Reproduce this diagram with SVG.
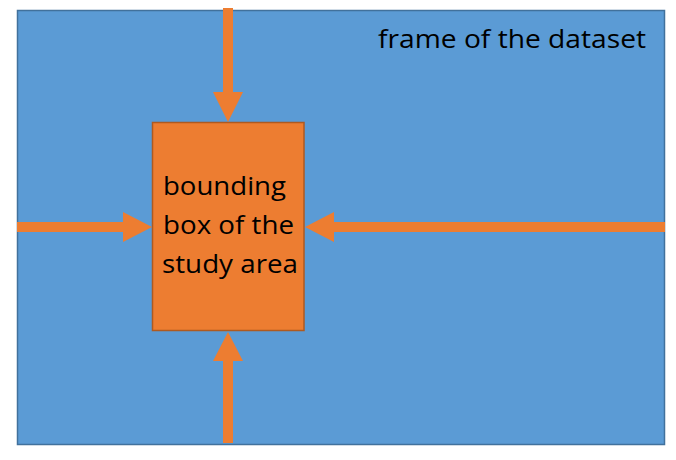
<svg xmlns="http://www.w3.org/2000/svg" width="676" height="460" viewBox="0 0 676 460">
<style>
.t{font-family:"Open Sans","Liberation Sans",sans-serif;font-size:26px;fill:#000}
.arr{fill:#ED7D31}
</style>
<rect width="676" height="460" fill="#fff"/>
<g id="frame">
<rect x="17.5" y="10.5" width="647" height="434" fill="#5B9BD5" stroke="#41719C" stroke-width="1.5"/>
<text class="t" x="378" y="48" textLength="268" lengthAdjust="spacingAndGlyphs">frame of the dataset</text>
</g>
<g id="connectors">
<polygon class="arr" points="223,8 233,8 233,92 243,92 228,122 213,92 223,92"/>
<polygon class="arr" points="17,222 123,222 123,212 152,227 123,242 123,232 17,232"/>
<polygon class="arr" points="665,222 334,222 334,212 305,227 334,242 334,232 665,232"/>
<polygon class="arr" points="223,443 233,443 233,361 243,361 228,332 213,361 223,361"/>
</g>
<g id="studyarea">
<rect x="152.5" y="122.5" width="151.5" height="208" fill="#ED7D31" stroke="#AE5A21" stroke-width="1.5"/>
<text class="t" x="163" y="195" textLength="123" lengthAdjust="spacingAndGlyphs">bounding</text>
<text class="t" x="163" y="234" textLength="131" lengthAdjust="spacingAndGlyphs">box of the</text>
<text class="t" x="162" y="273" textLength="136" lengthAdjust="spacingAndGlyphs">study area</text>
</g>
</svg>
